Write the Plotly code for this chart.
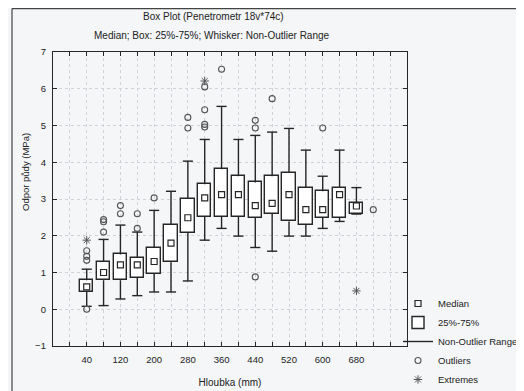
import plotly.graph_objects as go

depth = [40, 80, 120, 160, 200, 240, 280, 320, 360, 400, 440, 480, 520, 560, 600, 640, 680]
whisk_lo = [0.08, 0.10, 0.28, 0.37, 0.47, 0.47, 0.77, 1.88, 2.20, 1.99, 1.68, 1.58, 1.99, 1.99, 2.20, 2.39, 2.59]
q1 = [0.47, 0.79, 0.79, 0.86, 0.97, 1.28, 2.08, 2.51, 2.51, 2.51, 2.49, 2.60, 2.39, 2.29, 2.49, 2.49, 2.59]
median = [0.61, 1.00, 1.21, 1.21, 1.30, 1.80, 2.49, 3.03, 3.12, 3.12, 2.82, 2.88, 3.12, 2.71, 2.71, 3.12, 2.81]
q3 = [0.79, 1.29, 1.49, 1.40, 1.67, 2.29, 3.00, 3.40, 3.81, 3.62, 3.45, 3.62, 3.71, 3.31, 3.21, 3.31, 2.90]
whisk_hi = [1.09, 1.90, 2.29, 2.10, 2.69, 3.21, 4.03, 4.62, 5.52, 4.62, 4.73, 4.82, 4.92, 4.33, 3.62, 4.33, 3.31]

outlier_x = [40, 40, 40, 40, 80, 80, 80, 120, 120, 160, 160, 200, 280, 280,
             320, 320, 320, 320, 360, 440, 440, 440, 480, 600, 720]
outlier_y = [1.59, 1.44, 1.33, 0.00, 2.44, 2.38, 2.10, 2.82, 2.60, 2.60, 2.20, 3.03, 4.93, 5.22,
             4.96, 5.03, 5.43, 6.05, 6.53, 5.14, 4.93, 0.88, 5.73, 4.93, 2.71]
extreme_x = [40, 320, 680]
extreme_y = [1.88, 6.21, 0.50]

x_ticks = [40, 120, 200, 280, 360, 440, 520, 600, 680]
y_ticks = [-1, 0, 1, 2, 3, 4, 5, 6, 7]

BOX_W = 32
CAP = 12
LINE = "#262626"
GRID = "#cfd3d9"
FONT = "Liberation Sans, Arial, sans-serif"

wx, wy = [], []
for x, lo, a, b, hi in zip(depth, whisk_lo, q1, q3, whisk_hi):
    wx += [x, x, None, x, x, None, x - CAP, x + CAP, None, x - CAP, x + CAP, None]
    wy += [lo, a, None, b, hi, None, lo, lo, None, hi, hi, None]

fig = go.Figure()
fig.add_trace(go.Bar(x=depth, y=[b - a for a, b in zip(q1, q3)], base=q1, width=BOX_W,
                     name="25%-75%", legendrank=2,
                     marker=dict(color="white", line=dict(color=LINE, width=1.4))))
fig.add_trace(go.Scatter(x=wx, y=wy, mode="lines", name="Non-Outlier Range", legendrank=3,
                         line=dict(color=LINE, width=1.4)))
fig.add_trace(go.Scatter(x=depth, y=median, mode="markers", name="Median", legendrank=1,
                         marker=dict(symbol="square-open", size=6, color=LINE, line=dict(width=1.2))))
fig.add_trace(go.Scatter(x=outlier_x, y=outlier_y, mode="markers", name="Outliers", legendrank=4,
                         marker=dict(symbol="circle-open", size=6, color="#555", line=dict(width=1.1))))
fig.add_trace(go.Scatter(x=extreme_x, y=extreme_y, mode="markers", name="Extremes", legendrank=5,
                         marker=dict(symbol="asterisk-open", size=7, color="#555", line=dict(width=1))))

# page is offset by the browser's 8px body margin, so the figure is 8px smaller
fig.update_layout(
    width=516, height=383,
    margin=dict(l=45, r=117, t=44, b=45, autoexpand=False),
    paper_bgcolor="#f4f6f8", plot_bgcolor="#f4f6f8",
    font=dict(family=FONT, size=10, color="#222"),
    showlegend=True,
    legend=dict(x=(398 - 53) / 354, y=(346 - 289) / 294, xanchor="left", yanchor="top",
                bgcolor="rgba(0,0,0,0)", font=dict(size=9.5), itemwidth=30,
                traceorder="normal"),
    bargap=0,
    annotations=[
        dict(text="Box Plot (Penetrometr 18v*74c)", x=(213 - 53) / 354, y=(346 - 17) / 294,
             xref="paper", yref="paper", xanchor="center", yanchor="middle",
             showarrow=False, font=dict(size=10)),
        dict(text="Median; Box: 25%-75%; Whisker: Non-Outlier Range", x=(212 - 53) / 354,
             y=(346 - 35) / 294, xref="paper", yref="paper", xanchor="center",
             yanchor="middle", showarrow=False, font=dict(size=10)),
        dict(text="Odpor půdy (MPa)", textangle=-90, x=(25 - 53) / 354, y=(346 - 172) / 294,
             xref="paper", yref="paper", xanchor="center", yanchor="middle",
             showarrow=False, font=dict(size=9.5)),
    ],
)

fig.update_xaxes(range=[-40, 800], tickvals=x_ticks, ticktext=[str(v) for v in x_ticks],
                 ticks="inside", ticklen=4, tickcolor=LINE, showline=True, linecolor=LINE,
                 linewidth=1.3, mirror="ticks", showgrid=False, zeroline=False,
                 ticklabelstandoff=4,
                 minor=dict(dtick=40, tick0=0, ticks="inside", ticklen=4, tickcolor=LINE,
                            showgrid=True, gridcolor=GRID, griddash="dot", gridwidth=1),
                 title=dict(text="Hloubka (mm)", font=dict(size=10), standoff=15),
                 tickfont=dict(size=9.5))
fig.update_yaxes(range=[-1, 7], tickvals=y_ticks, ticks="inside", ticklen=4, tickcolor=LINE,
                 showline=True, linecolor=LINE, linewidth=1.3, mirror="ticks",
                 showgrid=True, gridcolor=GRID, griddash="dot", gridwidth=1,
                 zeroline=False, ticklabelstandoff=4, tickfont=dict(size=9.5))

# outer frame of the scanned chart
top = (346 - 8.6) / 294
left = (12 - 53) / 354
fig.add_shape(type="line", xref="paper", yref="paper", x0=left, x1=1.5, y0=top, y1=top,
              line=dict(color="#444", width=1.2))
fig.add_shape(type="line", xref="paper", yref="paper", x0=left, x1=left, y0=top, y1=-0.3,
              line=dict(color="#444", width=1.2))

fig.write_html("out.html")
